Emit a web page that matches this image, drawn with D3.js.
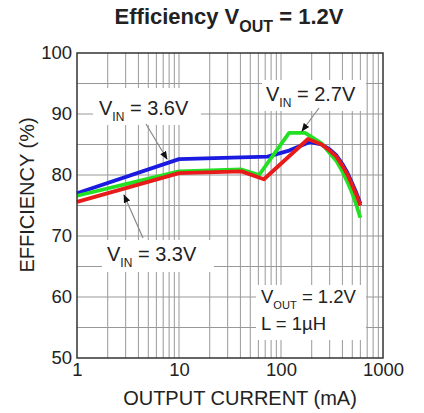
<!DOCTYPE html>
<html>
<head>
<meta charset="utf-8">
<script src="https://cdn.jsdelivr.net/npm/d3@7"></script>
<style>
  body { margin: 0; background: #fff; }
  text { font-family: "Liberation Sans", Arial, sans-serif; fill: #222; }
</style>
</head>
<body>
<svg id="chart" width="424" height="413"></svg>
<script>
// data
var vin36Current = [1, 10, 74, 120, 192, 250, 300, 350, 400, 450, 500, 550, 600];
var vin36Eff     = [77, 82.6, 83, 84, 85.4, 85, 84.2, 83.2, 81.8, 80.3, 78.6, 77, 75.3];
var vin27Current = [1, 10, 41, 61, 120, 172, 250, 300, 350, 400, 450, 500, 550, 600];
var vin27Eff     = [76.6, 80.6, 80.9, 80, 86.9, 86.9, 85.2, 83.6, 82.3, 80.6, 78.8, 77, 75, 73];
var vin33Current = [1, 10, 41, 68, 184, 250, 300, 350, 400, 450, 500, 550, 600];
var vin33Eff     = [75.6, 80.3, 80.6, 79.3, 85.9, 85, 84, 83, 81.5, 80, 78.3, 76.7, 75];
var xTicks = [1, 10, 100, 1000];
var yTicks = [50, 60, 70, 80, 90, 100];

var series = [
  { name: 'VIN = 3.6V', x: vin36Current, y: vin36Eff, color: '#1a1ae0' },
  { name: 'VIN = 2.7V', x: vin27Current, y: vin27Eff, color: '#22e022' },
  { name: 'VIN = 3.3V', x: vin33Current, y: vin33Eff, color: '#e81a1a' }
];

var svg = d3.select('#chart');
var plotL = 77, plotR = 383, plotT = 53, plotB = 358;

var x = d3.scaleLog().domain([1, 1000]).range([plotL, plotR]);
var y = d3.scaleLinear().domain([50, 100]).range([plotB, plotT]);

// grid
var minor = [];
for (var d = 1; d < 1000; d *= 10) {
  for (var k = 1; k <= 9; k++) minor.push(d * k);
}
var grid = svg.append('g').attr('stroke', '#999').attr('stroke-width', 1);
grid.selectAll('.vx').data(minor.filter(function(v) { return v > 1; })).enter().append('line')
  .attr('x1', function(v) { return x(v); }).attr('x2', function(v) { return x(v); })
  .attr('y1', plotT).attr('y2', plotB);
grid.selectAll('.hy').data(d3.range(55, 100, 5)).enter().append('line')
  .attr('x1', plotL).attr('x2', plotR)
  .attr('y1', function(v) { return y(v); }).attr('y2', function(v) { return y(v); });

// white boxes behind labels
var boxes = [[93, 88, 108, 37], [262, 80, 104, 31], [102, 240, 112, 32], [256, 285, 110, 55]];
svg.selectAll('.box').data(boxes).enter().append('rect')
  .attr('x', function(b) { return b[0]; }).attr('y', function(b) { return b[1]; })
  .attr('width', function(b) { return b[2]; }).attr('height', function(b) { return b[3]; })
  .attr('fill', '#fff');

// lines
var line = d3.line()
  .x(function(p) { return x(p[0]); })
  .y(function(p) { return y(p[1]); });
series.forEach(function(s) {
  var pts = s.x.map(function(v, i) { return [v, s.y[i]]; });
  svg.append('path').datum(pts)
    .attr('d', line)
    .attr('fill', 'none')
    .attr('stroke', s.color)
    .attr('stroke-width', 3.8)
    .attr('stroke-linejoin', 'round');
});

// frame and axes
svg.append('rect').attr('x', plotL).attr('y', plotT)
  .attr('width', plotR - plotL).attr('height', plotB - plotT)
  .attr('fill', 'none').attr('stroke', '#333').attr('stroke-width', 1.5);

var xAxis = d3.axisBottom(x).tickValues(xTicks).tickFormat(d3.format('d')).tickSize(0).tickPadding(3);
var gx = svg.append('g').attr('transform', 'translate(0,' + plotB + ')').call(xAxis);
gx.select('.domain').remove();
gx.selectAll('text').attr('font-size', 18.5).attr('dy', '0.8em')
  .style('font-family', '"Liberation Sans", Arial, sans-serif').attr('fill', '#222');

var yAxis = d3.axisLeft(y).tickValues(yTicks).tickSize(0).tickPadding(5);
var gy = svg.append('g').attr('transform', 'translate(' + plotL + ',0)').call(yAxis);
gy.select('.domain').remove();
gy.selectAll('text').attr('font-size', 18.5)
  .style('font-family', '"Liberation Sans", Arial, sans-serif').attr('fill', '#222');

// axis titles
svg.append('text').attr('x', 240).attr('y', 405).attr('text-anchor', 'middle')
  .attr('font-size', 20).text('OUTPUT CURRENT (mA)');
svg.append('text').attr('transform', 'translate(34,195) rotate(-90)').attr('text-anchor', 'middle')
  .attr('font-size', 20).text('EFFICIENCY (%)');

// title
var title = svg.append('text').attr('x', 229).attr('y', 24).attr('text-anchor', 'middle')
  .attr('font-size', 22).attr('font-weight', 'bold').attr('fill', '#111');
title.append('tspan').text('Efficiency V');
title.append('tspan').attr('font-size', 16).attr('dy', 8).text('OUT');
title.append('tspan').attr('dy', -8).text(' = 1.2V');

// annotations
function vLabel(xp, yp, sub, rest, size) {
  var t = svg.append('text').attr('x', xp).attr('y', yp).attr('font-size', size).attr('fill', '#222');
  t.append('tspan').text('V');
  t.append('tspan').attr('font-size', size * 0.6).attr('dy', 6).text(sub);
  t.append('tspan').attr('dy', -6).text(' = ' + rest);
  return t;
}
vLabel(99, 115, 'IN', '3.6V', 20);
vLabel(266, 101, 'IN', '2.7V', 20);
vLabel(107, 261, 'IN', '3.3V', 20);
vLabel(261, 303, 'OUT', '1.2V', 18.5);
svg.append('text').attr('x', 261).attr('y', 330).attr('font-size', 18.5).attr('fill', '#222').text('L = 1\u00b5H');

// arrows
var defs = svg.append('defs');
defs.append('marker').attr('id', 'ah').attr('viewBox', '0 0 10 10')
  .attr('refX', 9).attr('refY', 5).attr('markerWidth', 7).attr('markerHeight', 7)
  .attr('orient', 'auto')
  .append('path').attr('d', 'M0,1 L10,5 L0,9 Z').attr('fill', '#111');
var arrows = [[146, 124, 167, 159], [319, 108, 302, 131], [143, 238, 124, 195]];
svg.selectAll('.arr').data(arrows).enter().append('line')
  .attr('x1', function(a) { return a[0]; }).attr('y1', function(a) { return a[1]; })
  .attr('x2', function(a) { return a[2]; }).attr('y2', function(a) { return a[3]; })
  .attr('stroke', '#888').attr('stroke-width', 1.2)
  .attr('marker-end', 'url(#ah)');
</script>
</body>
</html>
